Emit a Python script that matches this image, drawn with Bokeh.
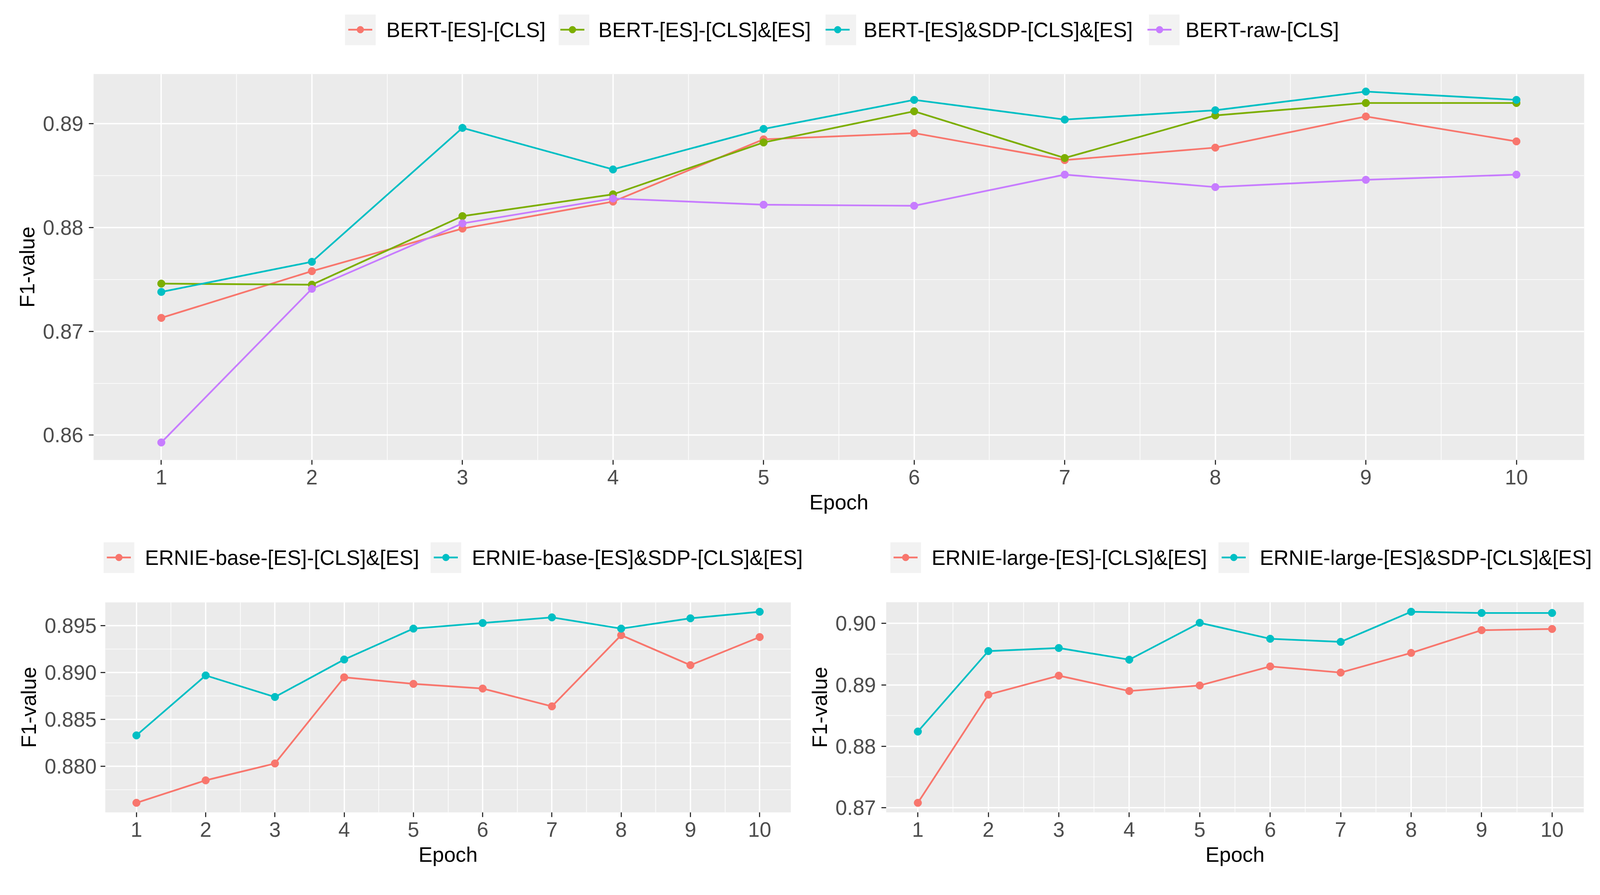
from bokeh.plotting import figure
from bokeh.models import FixedTicker, Range1d, Legend, LegendItem, NumeralTickFormatter, Spacer
from bokeh.core.properties import value
from bokeh.layouts import column, row
from bokeh.embed import file_html
from bokeh.resources import INLINE

# ---------------- data ----------------
epochs = [1, 2, 3, 4, 5, 6, 7, 8, 9, 10]
x_minor = [1.5, 2.5, 3.5, 4.5, 5.5, 6.5, 7.5, 8.5, 9.5]

top_names = ["BERT-[ES]-[CLS]", "BERT-[ES]-[CLS]&[ES]", "BERT-[ES]&SDP-[CLS]&[ES]", "BERT-raw-[CLS]"]
bert_es_cls = [0.8713, 0.8758, 0.8799, 0.8825, 0.8885, 0.8891, 0.8865, 0.8877, 0.8907, 0.8883]
bert_es_cls_es = [0.8746, 0.8745, 0.8811, 0.8832, 0.8882, 0.8912, 0.8867, 0.8908, 0.8920, 0.8920]
bert_es_sdp_cls_es = [0.8738, 0.8767, 0.8896, 0.8856, 0.8895, 0.8923, 0.8904, 0.8913, 0.8931, 0.8923]
bert_raw_cls = [0.8593, 0.8741, 0.8804, 0.8828, 0.8822, 0.8821, 0.8851, 0.8839, 0.8846, 0.8851]
top_yticks = [0.86, 0.87, 0.88, 0.89]
top_yminor = [0.865, 0.875, 0.885]

base_names = ["ERNIE-base-[ES]-[CLS]&[ES]", "ERNIE-base-[ES]&SDP-[CLS]&[ES]"]
ernie_base_es = [0.8761, 0.8785, 0.8803, 0.8895, 0.8888, 0.8883, 0.8864, 0.8940, 0.8908, 0.8938]
ernie_base_sdp = [0.8833, 0.8897, 0.8874, 0.8914, 0.8947, 0.8953, 0.8959, 0.8947, 0.8958, 0.8965]
base_yticks = [0.880, 0.885, 0.890, 0.895]
base_yminor = [0.8775, 0.8825, 0.8875, 0.8925, 0.8975]

large_names = ["ERNIE-large-[ES]-[CLS]&[ES]", "ERNIE-large-[ES]&SDP-[CLS]&[ES]"]
ernie_large_es = [0.8708, 0.8884, 0.8915, 0.8890, 0.8899, 0.8930, 0.8920, 0.8952, 0.8989, 0.8991]
ernie_large_sdp = [0.8824, 0.8955, 0.8960, 0.8941, 0.9001, 0.8975, 0.8970, 0.9019, 0.9017, 0.9017]
large_yticks = [0.87, 0.88, 0.89, 0.90]
large_yminor = [0.875, 0.885, 0.895]

colors4 = ["#F8766D", "#7CAE00", "#00BFC4", "#C77CFF"]
colors2 = ["#F8766D", "#00BFC4"]

# layout scale: css px -> picture px
S = 4096 / 4181


def ipx(v):
    return int(round(v * S))


FONT = "Liberation Sans"
FSZ = 54.4 * S
FS = "%.1fpx" % FSZ
LW = 4.5 * S
MS = 20 * S

# Arial / Liberation Sans advance widths (per 1000 em) for legend key placement
ADV = {"A": 667, "B": 667, "C": 722, "D": 722, "E": 667, "I": 278, "L": 556, "N": 722,
       "P": 667, "R": 722, "S": 667, "T": 611, "a": 556, "b": 556, "e": 556, "g": 556,
       "l": 222, "r": 333, "s": 500, "w": 722, "-": 333, "[": 278, "]": 278, "&": 667, " ": 278}


def text_w(s):
    return sum(ADV.get(c, 556) for c in s) / 1000.0 * FSZ


def make_panel(w, h, bl, br, bt, bb, series, colors, yticks, yminor, fmt, ylab_standoff):
    lo = min(min(s) for s in series)
    hi = max(max(s) for s in series)
    pad = (hi - lo) * 0.05
    xpad = (epochs[-1] - epochs[0]) * 0.05
    p = figure(width=w, height=h, output_backend="svg", toolbar_location=None,
               x_range=Range1d(epochs[0] - xpad, epochs[-1] + xpad),
               y_range=Range1d(lo - pad, hi + pad),
               min_border_left=bl, min_border_right=br,
               min_border_top=bt, min_border_bottom=bb)
    p.background_fill_color = "#EBEBEB"
    p.border_fill_color = "white"
    p.outline_line_color = None

    xt = FixedTicker(ticks=epochs, minor_ticks=x_minor)
    yt = FixedTicker(ticks=yticks, minor_ticks=yminor)
    p.xaxis.ticker = xt
    p.yaxis.ticker = yt
    p.xgrid.ticker = xt
    p.ygrid.ticker = yt
    p.yaxis.formatter = NumeralTickFormatter(format=fmt)
    for g in (p.xgrid, p.ygrid):
        g.grid_line_color = "white"
        g.grid_line_width = 3.5 * S
        g.minor_grid_line_color = "white"
        g.minor_grid_line_width = 1.75 * S
    for ax in (p.xaxis, p.yaxis):
        ax.axis_line_color = None
        ax.major_tick_line_color = "#333333"
        ax.major_tick_line_width = 3 * S
        ax.major_tick_out = 12
        ax.major_tick_in = 0
        ax.minor_tick_line_color = None
        ax.major_label_text_font = FONT
        ax.major_label_text_font_size = FS
        ax.major_label_text_color = "#4D4D4D"
        ax.axis_label_text_font = FONT
        ax.axis_label_text_font_size = FS
        ax.axis_label_text_font_style = "normal"
        ax.axis_label_text_color = "black"
    p.xaxis.axis_label = "Epoch"
    p.yaxis.axis_label = "F1-value"
    p.xaxis.major_label_standoff = 13
    p.xaxis.axis_label_standoff = 13
    p.yaxis.major_label_standoff = ylab_standoff
    p.yaxis.axis_label_standoff = 8

    for s, c in zip(series, colors):
        p.line(epochs, s, line_color=c, line_width=LW)
    for s, c in zip(series, colors):
        p.scatter(epochs, s, size=MS, fill_color=c, line_color=c, marker="circle")
    return p


GA = 98      # key box glyph (box = 80% of it)
GB = 62      # line/point glyph width
GBH = 44     # line/point glyph height
STB = 36     # label standoff
SPC = 37     # spacing between items
OFF = (GA - GB) // 2


def make_legend_strip(w, h, names, series, colors, x0):
    """A strip holding a ggplot-like horizontal legend, left-aligned and vertically centred."""
    p = figure(width=w, height=h, output_backend="svg", toolbar_location=None,
               x_axis_type=None, y_axis_type=None, min_border=0,
               x_range=Range1d(0, 1), y_range=Range1d(0, 1))
    p.grid.visible = False
    p.outline_line_color = None
    p.background_fill_color = "white"
    p.border_fill_color = "white"

    lines, pts = [], []
    for s, c in zip(series, colors):
        lines.append(p.line(epochs, s, line_color=c, line_width=LW, visible=False))
    for s, c in zip(series, colors):
        pts.append(p.scatter(epochs, s, size=MS, fill_color=c, line_color=c, visible=False))
    key_r = p.quad(left=epochs[:1], right=epochs[:1], bottom=series[0][:1], top=series[0][:1],
                   fill_color="#F2F2F2", line_color=None, visible=False)

    # grey key boxes, one small legend each (no text)
    offset = 0.0
    for n in names:
        kb = Legend(items=[LegendItem(label=value(""), renderers=[key_r])],
                    location="left", margin=int(round(x0 + offset)), padding=0,
                    glyph_width=GA, glyph_height=GA, label_standoff=0, label_width=0,
                    border_line_color=None, background_fill_alpha=0,
                    label_text_font=FONT, label_text_font_size=FS)
        p.add_layout(kb)
        offset += GB + STB + text_w(n) + SPC

    leg = Legend(items=[LegendItem(label=n, renderers=[l, q]) for n, l, q in zip(names, lines, pts)],
                 orientation="horizontal", padding=0, spacing=SPC, location="left",
                 margin=x0 + OFF, glyph_width=GB, glyph_height=GBH, label_standoff=STB,
                 border_line_color=None, background_fill_alpha=0,
                 label_text_font=FONT, label_text_font_size=FS, label_text_color="black")
    p.add_layout(leg)
    return p


top_series = [bert_es_cls, bert_es_cls_es, bert_es_sdp_cls_es, bert_raw_cls]
base_series = [ernie_base_es, ernie_base_sdp]
large_series = [ernie_large_es, ernie_large_sdp]

W = 4096
TOP_STRIP = ipx(154)      # 151
TOP_H = ipx(1216)         # 1191
BOT_STRIP = 169
BOT_H = 733

# top legend strip
sp_top = ipx(891)
top_leg = row(Spacer(width=sp_top, height=TOP_STRIP),
              make_legend_strip(W - sp_top, TOP_STRIP, top_names, top_series, colors4, 0),
              spacing=0)
top = make_panel(W, TOP_H, ipx(244), ipx(42), ipx(38.7), ipx(168), top_series, colors4,
                 top_yticks, top_yminor, "0.00", 14)

# bottom legend strip (two legends side by side)
sp_bot = ipx(260.8)
split_leg = ipx(2300)
bot_leg = row(Spacer(width=sp_bot, height=BOT_STRIP),
              make_legend_strip(split_leg - sp_bot, BOT_STRIP, base_names, base_series, colors2, 0),
              make_legend_strip(W - split_leg, BOT_STRIP, large_names, large_series, colors2,
                                ipx(2315.6) - split_leg),
              spacing=0)

WL = ipx(2100)
WR = W - WL
fh = ipx(549)
bt = ipx(31)
bb = BOT_H - bt - fh
l_left = ipx(274.5)
l_right = WL - l_left - ipx(2066 - 274.5)
left = make_panel(WL, BOT_H, l_left, l_right, bt, bb, base_series, colors2,
                  base_yticks, base_yminor, "0.000", 10)
r_left = ipx(215)
r_right = WR - r_left - ipx(4138 - 2315)
right = make_panel(WR, BOT_H, r_left, r_right, bt, bb, large_series, colors2,
                   large_yticks, large_yminor, "0.00", 14)

layout = column(top_leg, top, bot_leg, row(left, right, spacing=0), spacing=0)
open("out.html", "w").write(file_html(layout, INLINE))
